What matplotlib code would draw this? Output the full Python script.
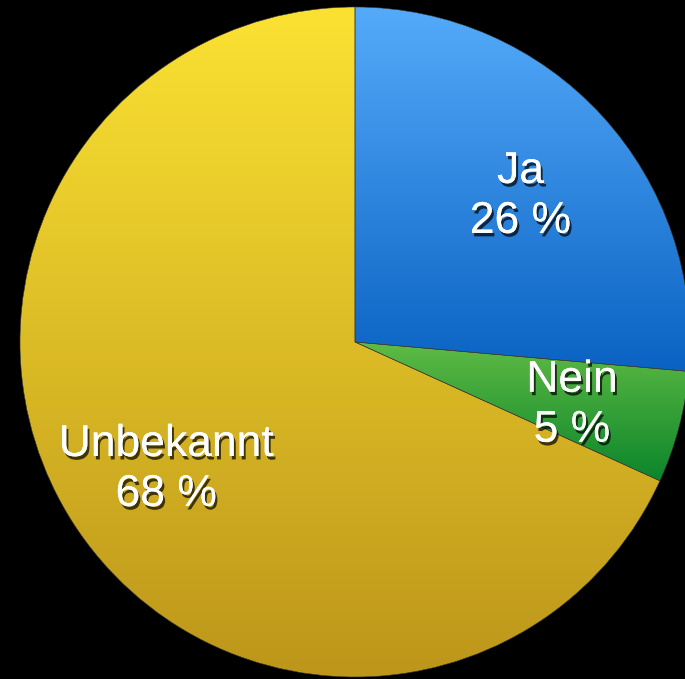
import matplotlib
matplotlib.use("Agg")
import matplotlib.pyplot as plt
import matplotlib.patheffects as pe
import numpy as np
from matplotlib.colors import LinearSegmentedColormap

# slice data
labels = ["Ja", "Nein", "Unbekannt"]
shares = [26.4, 5.4, 68.2]
shown_pct = [26, 5, 68]
top_colors = ["#55abfa", "#5fbb44", "#fbe232"]
bottom_colors = ["#0a62c3", "#0b852b", "#bd961a"]

W, H = 685, 679
fig = plt.figure(figsize=(W / 100, H / 100), dpi=100, facecolor="black")
ax = fig.add_axes([0, 0, 1, 1])
ax.set_facecolor("black")

cx, cy, R = 355, H - 342, 335
wedges, _ = ax.pie(shares, startangle=90, counterclock=False,
                   center=(cx, cy), radius=R,
                   wedgeprops=dict(edgecolor="#3a3a3a", linewidth=0.4))
ax.set_xlim(0, W)
ax.set_ylim(0, H)
ax.set_aspect("equal")
ax.axis("off")

grad = np.linspace(0, 1, 256).reshape(-1, 1)
for w, c0, c1 in zip(wedges, top_colors, bottom_colors):
    w.set_facecolor("none")
    bb = w.get_path().get_extents(w.get_patch_transform())
    cmap = LinearSegmentedColormap.from_list("g", [c0, c1])
    im = ax.imshow(grad, cmap=cmap, aspect="auto", origin="upper",
                   extent=(bb.x0, bb.x1, bb.y0, bb.y1), zorder=0.5)
    im.set_clip_path(w)

shadow = [pe.withSimplePatchShadow(offset=(1.5, -2.5), shadow_rgbFace="black",
                                   alpha=0.7), pe.Normal()]
for w, name, p in zip(wedges, labels, shown_pct):
    mid = np.deg2rad((w.theta1 + w.theta2) / 2)
    x = cx + 0.67 * R * np.cos(mid)
    y = cy + 0.67 * R * np.sin(mid) - 6
    ax.text(x, y, f"{name}\n{p} %", ha="center", va="center", color="white",
            fontsize=32, family="Liberation Sans", linespacing=1.28,
            path_effects=shadow, zorder=3)

fig.savefig("out.png", dpi=100, facecolor="black")
